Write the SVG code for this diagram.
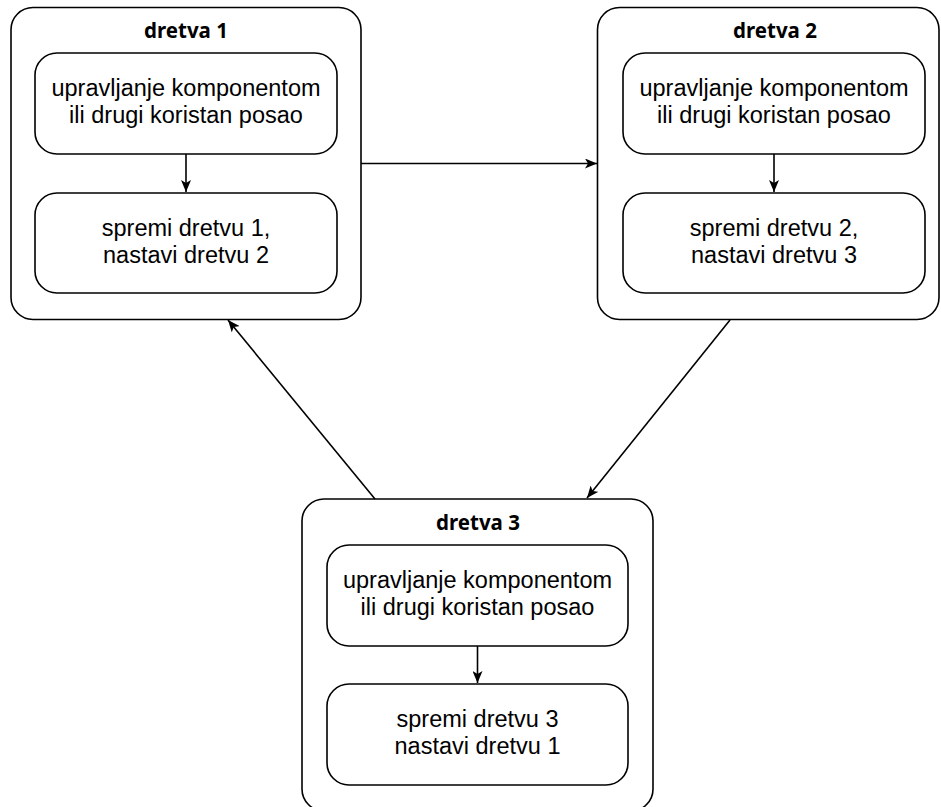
<svg xmlns="http://www.w3.org/2000/svg" width="941" height="807" viewBox="0 0 941 807">
<defs>
<marker id="arr" markerUnits="userSpaceOnUse" markerWidth="13" markerHeight="10" refX="12" refY="5" orient="auto">
<path d="M0,0 L12,5 L0,10 L3,5 z" fill="#000"/>
</marker>
<style>
.outer{fill:#fff;stroke:#000;stroke-width:1.6}
.inner{fill:#fff;stroke:#000;stroke-width:1.6}
.title{font-family:"Noto Sans","Open Sans",sans-serif;font-weight:700;font-size:20.5px;text-anchor:middle;fill:#000}
.body{font-family:"Liberation Sans",Arial,sans-serif;font-size:23.5px;text-anchor:middle;fill:#000}
.edge{fill:none;stroke:#000;stroke-width:1.6;marker-end:url(#arr)}
</style>
</defs>
<rect width="941" height="807" fill="#fff"/>
<g id="dretva1">
<rect class="outer" x="11" y="7.5" width="350" height="312" rx="22"/>
<text class="title" x="186" y="37.5">dretva 1</text>
<g id="d1-posao">
<rect class="inner" x="35" y="53" width="302" height="101" rx="22"/>
<text class="body" x="186" y="96">upravljanje komponentom</text>
<text class="body" x="186" y="123">ili drugi koristan posao</text>
</g>
<g id="d1-spremi">
<rect class="inner" x="35" y="193" width="302" height="100" rx="22"/>
<text class="body" x="186" y="236">spremi dretvu 1,</text>
<text class="body" x="186" y="263">nastavi dretvu 2</text>
</g>
</g>
<g id="dretva2">
<rect class="outer" x="597.5" y="7.5" width="341.5" height="312" rx="22"/>
<text class="title" x="775" y="37.5">dretva 2</text>
<g id="d2-posao">
<rect class="inner" x="623" y="53" width="302" height="101" rx="22"/>
<text class="body" x="774" y="96">upravljanje komponentom</text>
<text class="body" x="774" y="123">ili drugi koristan posao</text>
</g>
<g id="d2-spremi">
<rect class="inner" x="623" y="193" width="302" height="100" rx="22"/>
<text class="body" x="774" y="236">spremi dretvu 2,</text>
<text class="body" x="774" y="263">nastavi dretvu 3</text>
</g>
</g>
<g id="dretva3">
<rect class="outer" x="302" y="499" width="351" height="312" rx="22"/>
<text class="title" x="478" y="529.5">dretva 3</text>
<g id="d3-posao">
<rect class="inner" x="327" y="545" width="301" height="101" rx="22"/>
<text class="body" x="477.5" y="588">upravljanje komponentom</text>
<text class="body" x="477.5" y="615">ili drugi koristan posao</text>
</g>
<g id="d3-spremi">
<rect class="inner" x="327" y="684" width="301" height="101" rx="22"/>
<text class="body" x="477.5" y="727">spremi dretvu 3</text>
<text class="body" x="477.5" y="754">nastavi dretvu 1</text>
</g>
</g>
<g id="connectors">
<line class="edge" x1="186" y1="154" x2="186" y2="192"/>
<line class="edge" x1="774" y1="154" x2="774" y2="192"/>
<line class="edge" x1="477.5" y1="646" x2="477.5" y2="683"/>
<line class="edge" x1="361" y1="163.5" x2="597" y2="163.5"/>
<line class="edge" x1="730" y1="320" x2="587" y2="498"/>
<line class="edge" x1="375" y1="499" x2="228" y2="320"/>
</g>
</svg>
